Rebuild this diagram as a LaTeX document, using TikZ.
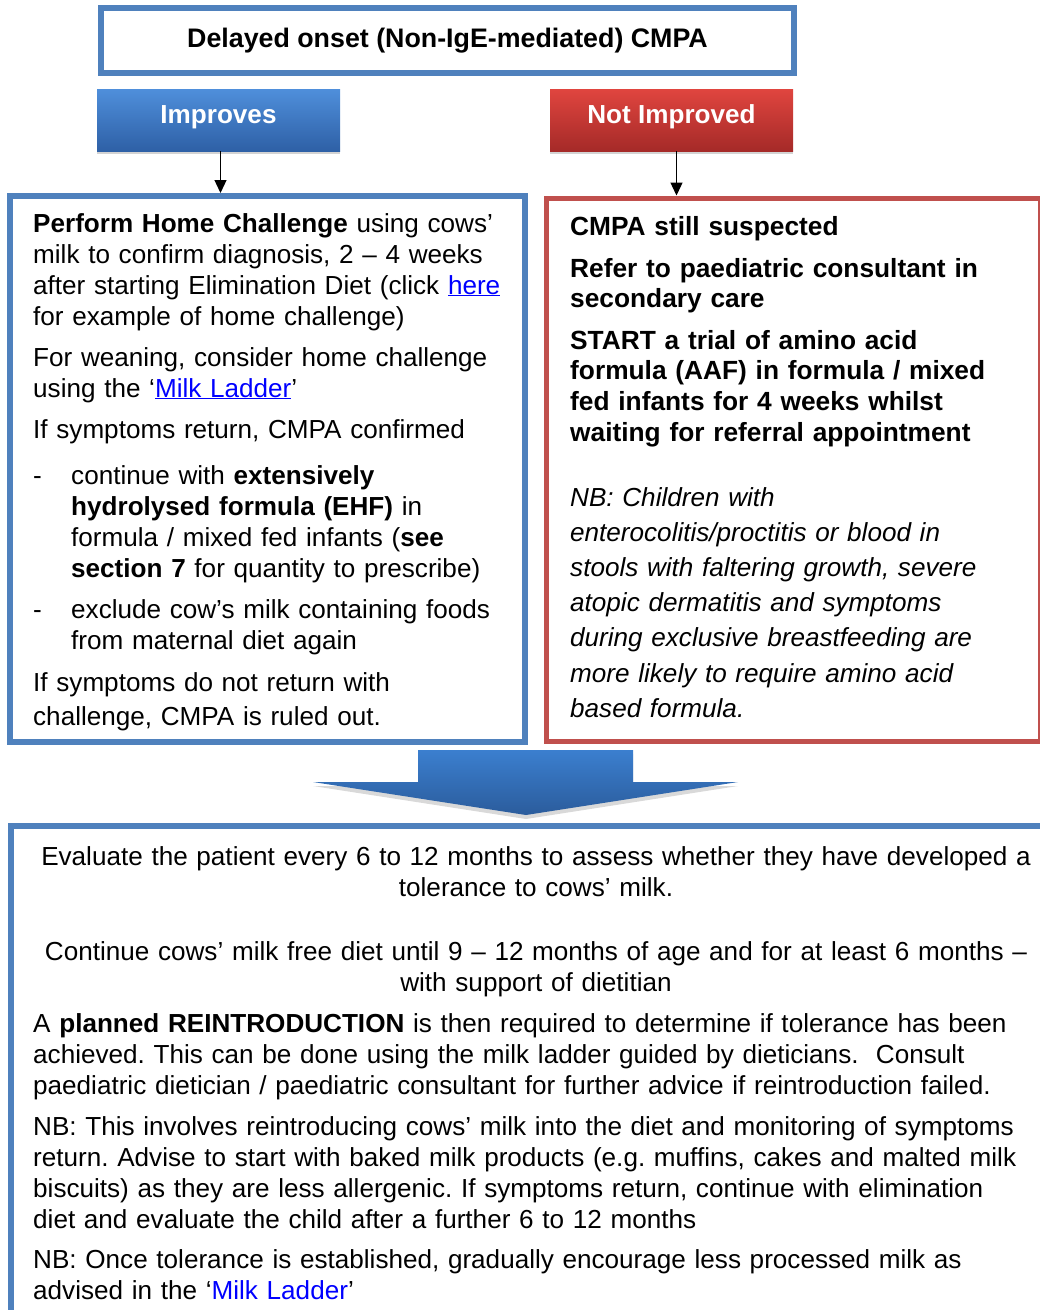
\documentclass[tikz,border=0pt]{standalone}
\usepackage{fontspec}
\setmainfont{Liberation Sans}
\frenchspacing
\usetikzlibrary{shadows,arrows.meta}
\definecolor{ruleblue}{HTML}{4F81BD}
\definecolor{rulered}{HTML}{C0504D}
\definecolor{btnbluetop}{HTML}{4F8FDB}
\definecolor{btnbluebot}{HTML}{2E60A6}
\definecolor{btnredtop}{HTML}{E0453F}
\definecolor{btnredbot}{HTML}{A52A28}
\definecolor{arrowtop}{HTML}{3B7FCF}
\definecolor{arrowbot}{HTML}{2B5C9C}
\definecolor{linkblue}{HTML}{0000FF}
\newcommand{\cmpabody}{\fontsize{26.1}{31}\selectfont}
\newcommand{\cmpared}{\fontsize{26.3}{30.7}\selectfont\bfseries}
\newcommand{\cmpanote}{\fontsize{26.1}{35.2}\selectfont\itshape}
\newcommand{\weblink}[1]{\textcolor{linkblue}{\underline{#1}}}
\tikzset{%
	boxframe/.style = {draw, rectangle, inner sep=0pt},
	bluebox/.style  = {boxframe, draw=ruleblue, line width=6pt},
	redbox/.style   = {boxframe, draw=rulered, line width=5pt},
	button/.style   = {rectangle, inner sep=0pt, minimum width=243pt,
		minimum height=62pt, text=white, font=\cmpabody\bfseries,
		text height=19pt, text depth=12pt,
		drop shadow={opacity=0.35, shadow xshift=0pt, shadow yshift=-3pt}},
	conn/.style     = {draw, line width=1.3pt, -{Triangle[length=13pt,width=12pt]}},
	txt/.style      = {inner sep=0pt, anchor=base west, align=left,
		text width=#1, font=\cmpabody},
	ctxt/.style     = {inner sep=0pt, anchor=base, align=center,
		text width=1010pt, font=\cmpabody}
}

\begin{document}
\begin{tikzpicture}[x=1pt,y=-1pt]
	\useasboundingbox (0,0) rectangle (1040,1310);
	
	% heading and the two outcomes
	\node[bluebox, minimum width=693pt, minimum height=65pt, font=\fontsize{26.8}{31}\selectfont\bfseries] (title) at (447.5,40.5) {Delayed onset (Non-IgE-mediated) CMPA};
	\node[button, top color=btnbluetop, bottom color=btnbluebot] (improves) at (218.5,120) {Improves};
	\node[button, top color=btnredtop, bottom color=btnredbot] (notimp) at (671.5,120) {Not Improved};
	
	\node[bluebox, minimum width=515pt, minimum height=546pt] (homebox) at (267.5,469) {};
	\node[redbox, minimum width=494pt, minimum height=543pt] (referbox) at (793,469.5) {};
	
	\draw[conn] ([xshift=2pt]improves.south) -- ([xshift=2pt]improves.south |- homebox.north);
	\draw[conn] ([xshift=5pt]notimp.south) -- ([xshift=5pt]notimp.south |- referbox.north);
	
	% improves side
	\node[txt=490pt] (challenge) at (33,232) {\textbf{Perform Home Challenge} using cows’\\milk to confirm diagnosis, 2 – 4 weeks\\after starting Elimination Diet (click \weblink{here}\\for example of home challenge)};
	\node[txt=490pt] (weaning) at (33,366) {For weaning, consider home challenge\\using the ‘\weblink{Milk Ladder}’};
	\node[txt=490pt] (confirmed) at (33,438) {If symptoms return, CMPA confirmed};
	\node[txt=30pt] (dashone) at (33,484) {-};
	\node[txt=450pt] (ehf) at (71,484) {continue with \textbf{extensively}\\\textbf{hydrolysed formula (EHF)} in\\formula / mixed fed infants (\textbf{see}\\\textbf{section 7} for quantity to prescribe)};
	\node[txt=30pt] (dashtwo) at (33,618) {-};
	\node[txt=450pt] (maternal) at (71,618) {exclude cow’s milk containing foods\\from maternal diet again};
	\node[txt=490pt] (ruledout) at (33,691) {If symptoms do not return with\\[3pt]challenge, CMPA is ruled out.};
	
	% not improved side
	\node[txt=460pt, font=\cmpared] (suspected) at (570,235) {CMPA still suspected};
	\node[txt=460pt, font=\cmpared] (refer) at (570,277) {Refer to paediatric consultant in\\secondary care};
	\node[txt=460pt, font=\cmpared] (aaf) at (570,349) {START a trial of amino acid\\formula (AAF) in formula / mixed\\fed infants for 4 weeks whilst\\waiting for referral appointment};
	\node[txt=460pt, font=\cmpanote] (nbaaf) at (570,506) {NB: Children with\\enterocolitis/proctitis or blood in\\stools with faltering growth, severe\\atopic dermatitis and symptoms\\during exclusive breastfeeding are\\more likely to require amino acid\\based formula.};
	
	% big arrow down
	\shade[top color=arrowtop, bottom color=arrowbot, drop shadow={opacity=0.3, shadow xshift=0pt, shadow yshift=-4pt}]
		(418,750) -- (633,750) -- (633,782) -- (738,782) -- (526,815) -- (313,782) -- (418,782) -- cycle;
	
	\node[bluebox, minimum width=1034pt, minimum height=494pt] (reviewbox) at (528,1073) {};
	
	% review
	\node[ctxt] (evaluate) at (536,865) {Evaluate the patient every 6 to 12 months to assess whether they have developed a\\tolerance to cows’ milk.};
	\node[ctxt] (freediet) at (536,960) {Continue cows’ milk free diet until 9 – 12 months of age and for at least 6 months –\\with support of dietitian};
	\node[txt=1005pt] (reintro) at (33,1032) {A \textbf{planned REINTRODUCTION} is then required to determine if tolerance has been\\achieved. This can be done using the milk ladder guided by dieticians.\ \ Consult\\paediatric dietician / paediatric consultant for further advice if reintroduction failed.};
	\node[txt=1005pt] (nbreturn) at (33,1135) {NB: This involves reintroducing cows’ milk into the diet and monitoring of symptoms\\return. Advise to start with baked milk products (e.g. muffins, cakes and malted milk\\biscuits) as they are less allergenic. If symptoms return, continue with elimination\\diet and evaluate the child after a further 6 to 12 months};
	\node[txt=1005pt] (nbladder) at (33,1268) {NB: Once tolerance is established, gradually encourage less processed milk as\\advised in the ‘\textcolor{linkblue}{Milk Ladder}’};
\end{tikzpicture}
\end{document}
